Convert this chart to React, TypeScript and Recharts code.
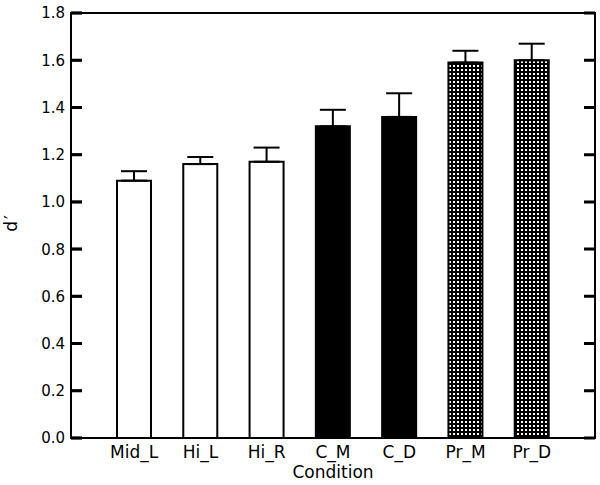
import React from 'react';
import { BarChart, Bar, XAxis, YAxis, ErrorBar, Cell, CartesianGrid, ReferenceArea } from 'recharts';

const conditions = ['Mid_L', 'Hi_L', 'Hi_R', 'C_M', 'C_D', 'Pr_M', 'Pr_D'];
const dPrime = [1.09, 1.16, 1.17, 1.32, 1.36, 1.59, 1.6];
const sem = [0.04, 0.03, 0.06, 0.07, 0.1, 0.05, 0.07];
const groups = ['open', 'open', 'open', 'solid', 'solid', 'dotted', 'dotted'];
const yTicks = [0, 0.2, 0.4, 0.6, 0.8, 1.0, 1.2, 1.4, 1.6, 1.8];

const groupFill: Record<string, string> = {
  open: '#ffffff',
  solid: '#000000',
  dotted: 'url(#dots)',
};

const FONT = '"DejaVu Sans", Verdana, sans-serif';

const data = conditions.map((name, i) => ({
  name,
  d: dPrime[i],
  err: [0, sem[i]],
  group: groups[i],
}));

// y tick label plus a short mark pointing into the plot
const LeftTick = (props: any) => {
  const x = Number(props.x);
  const y = Number(props.y);
  return (
    <g>
      <text x={x} y={y} dy="0.36em" textAnchor="end" fontSize={15} fontFamily={FONT} fill="#000">
        {Number(props.payload.value).toFixed(1)}
      </text>
      <rect x={x + 6} y={y - 1.25} width={11} height={2.5} fill="#000" />
    </g>
  );
};

const YLabel = ({ viewBox }: any) => {
  const cx = viewBox.x + 17;
  const cy = viewBox.y + viewBox.height / 2 - 3;
  return (
    <text
      x={cx}
      y={cy}
      textAnchor="middle"
      transform={`rotate(-90, ${cx}, ${cy})`}
      fontSize={17}
      letterSpacing={2}
      fontFamily={FONT}
      fill="#000"
    >
      d′
    </text>
  );
};

export default function App() {
  return (
    <div style={{ position: 'absolute', left: 0, top: 0, background: '#fff' }}>
      <BarChart
        width={600}
        height={485}
        data={data}
        margin={{ top: 13, right: 5, bottom: 0, left: 0 }}
        barSize={34}
      >
        <defs>
          <pattern id="dots" patternUnits="userSpaceOnUse" width={4} height={4}>
            <rect width={4} height={4} fill="#000" />
            <rect x={1} y={1} width={2} height={2} fill="#fff" />
          </pattern>
        </defs>
        {/* inward tick marks on both edges, as dashed grid lines */}
        <CartesianGrid
          xAxisId="bottom"
          yAxisId="left"
          vertical={false}
          stroke="#000"
          strokeOpacity={1}
          strokeWidth={3}
          strokeDasharray="11 502 11 0"
        />
        <XAxis
          xAxisId="bottom"
          dataKey="name"
          height={47}
          padding={{ left: 30, right: 30 }}
          axisLine={{ stroke: '#000', strokeWidth: 2 }}
          tickLine={false}
          tickSize={0}
          tickMargin={8}
          interval={0}
          tick={{ fill: '#000', fontSize: 17, fontFamily: FONT }}
          label={{
            value: 'Condition',
            position: 'insideBottom',
            offset: 7,
            fill: '#000',
            fontSize: 17,
            fontFamily: FONT,
          }}
        />
        {/* hidden full-width axis, only used to span the frame */}
        <XAxis xAxisId="frame" type="number" hide />
        <YAxis
          yAxisId="left"
          type="number"
          width={71}
          domain={[0, 1.8]}
          ticks={yTicks}
          interval={0}
          axisLine={{ stroke: '#000', strokeWidth: 2 }}
          tickLine={false}
          tickSize={0}
          tickMargin={6}
          tick={<LeftTick />}
          label={<YLabel />}
        />
        {/* plot frame */}
        <ReferenceArea
          xAxisId="frame"
          yAxisId="left"
          y1={0}
          y2={1.8}
          fill="none"
          fillOpacity={0}
          stroke="#000"
          strokeWidth={2}
        />
        <Bar
          dataKey="d"
          xAxisId="bottom"
          yAxisId="left"
          stroke="#000"
          strokeWidth={2}
          isAnimationActive={false}
        >
          {data.map((row) => (
            <Cell key={row.name} fill={groupFill[row.group]} />
          ))}
          <ErrorBar dataKey="err" width={13} stroke="#000" strokeWidth={2} isAnimationActive={false} />
        </Bar>
      </BarChart>
    </div>
  );
}
